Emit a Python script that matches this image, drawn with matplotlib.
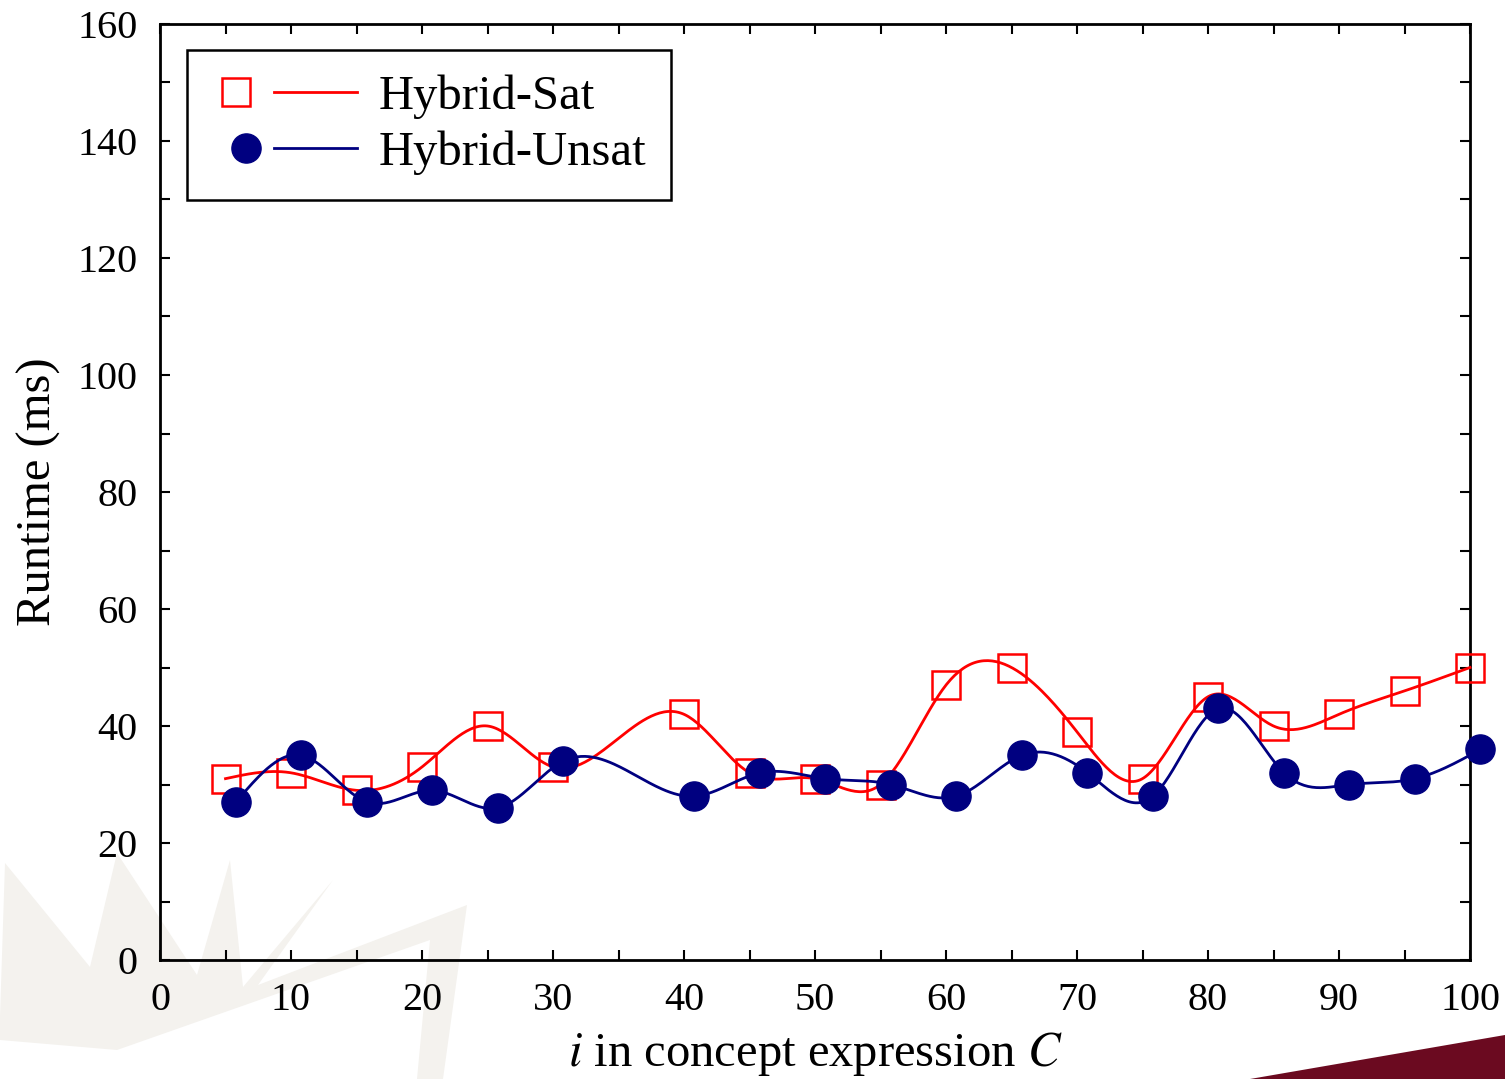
import numpy as np
import matplotlib
matplotlib.use("Agg")
import matplotlib.pyplot as plt
from matplotlib.lines import Line2D
from matplotlib.legend_handler import HandlerBase

plt.rcParams['font.family'] = ['Liberation Serif', 'DejaVu Serif']
plt.rcParams['mathtext.fontset'] = 'stix'

# data
sat_x = [5, 10, 15, 20, 25, 30, 40, 45, 50, 55, 60, 65, 70, 75, 80, 85, 90, 95, 100]
sat_y = [31, 32, 29, 33, 40, 33, 42, 32, 31, 30, 47, 50, 39, 31, 45, 40, 42, 46, 50]
unsat_x = [5.8, 10.8, 15.8, 20.8, 25.8, 30.8, 40.8, 45.8, 50.8, 55.8, 60.8, 65.8,
           70.8, 75.8, 80.8, 85.8, 90.8, 95.8, 100.8]
unsat_y = [27, 35, 27, 29, 26, 34, 28, 32, 31, 30, 28, 35, 32, 28, 43, 32, 30, 31, 36]

RED = '#ff0000'
BLUE = '#000080'
LW = 2.0


def csplines(x, y, n=600):
    # natural cubic spline, like gnuplot "smooth csplines"
    x = np.asarray(x, float)
    y = np.asarray(y, float)
    k = len(x)
    h = np.diff(x)
    A = np.zeros((k, k))
    b = np.zeros(k)
    A[0, 0] = A[-1, -1] = 1
    for i in range(1, k - 1):
        A[i, i - 1] = h[i - 1]
        A[i, i] = 2 * (h[i - 1] + h[i])
        A[i, i + 1] = h[i]
        b[i] = 6 * ((y[i + 1] - y[i]) / h[i] - (y[i] - y[i - 1]) / h[i - 1])
    M = np.linalg.solve(A, b)
    xs = np.linspace(x[0], x[-1], n)
    idx = np.clip(np.searchsorted(x, xs) - 1, 0, k - 2)
    x0, x1 = x[idx], x[idx + 1]
    hh = x1 - x0
    t0 = x1 - xs
    t1 = xs - x0
    ys = (M[idx] * t0 ** 3 + M[idx + 1] * t1 ** 3) / (6 * hh) \
        + (y[idx] / hh - M[idx] * hh / 6) * t0 \
        + (y[idx + 1] / hh - M[idx + 1] * hh / 6) * t1
    return xs, ys


class MarkerThenLine(HandlerBase):
    # marker on the left, short line on the right, as gnuplot draws its key
    def __init__(self, mpos):
        super().__init__()
        self.mpos = mpos

    def create_artists(self, legend, orig, xdescent, ydescent, width, height, fontsize, trans):
        y = height / 2 - ydescent
        m = Line2D([self.mpos * width - xdescent], [y], ls='none',
                   marker=orig.get_marker(), ms=orig.get_markersize(),
                   mfc=orig.get_markerfacecolor(), mec=orig.get_markeredgecolor(),
                   mew=orig.get_markeredgewidth())
        l = Line2D([0.43 * width - xdescent, width - xdescent], [y, y],
                   color=orig.get_color(), lw=orig.get_linewidth())
        m.set_transform(trans)
        l.set_transform(trans)
        return [m, l]


W, H = 1505.0, 1079.0
fig = plt.figure(figsize=(15.05, 10.79), dpi=100)

# faint slide watermark behind the plot (pixel coordinates)
bg = fig.add_axes([0, 0, 1, 1], zorder=-1)
bg.set_xlim(0, W)
bg.set_ylim(H, 0)
bg.axis('off')
wm = [(0, 1017), (5, 863), (90, 967), (117, 853), (197, 975), (230, 860), (243, 987),
      (333, 880), (258, 985), (467, 905), (443, 1079), (417, 1079), (430, 940),
      (117, 1050), (0, 1040)]
bg.fill([p[0] for p in wm], [p[1] for p in wm], color='#f4f2ee', lw=0)
sw = [(1250, 1079), (1505, 1035), (1505, 1079)]
bg.fill([p[0] for p in sw], [p[1] for p in sw], color='#6b0a20', lw=0)

ax = fig.add_axes([160 / W, 1 - 960 / H, 1310 / W, 936 / H])
ax.set_facecolor('none')

xs, ys = csplines(sat_x, sat_y)
ax.plot(xs, ys, color=RED, lw=LW, clip_on=False, zorder=3)
ax.plot(sat_x, sat_y, ls='none', marker='s', ms=20, mfc='none', mec=RED, mew=1.8,
        clip_on=False, zorder=4)

xs, ys = csplines(unsat_x, unsat_y)
ax.plot(xs, ys, color=BLUE, lw=LW, clip_on=False, zorder=5)
ax.plot(unsat_x, unsat_y, ls='none', marker='o', ms=21, mfc=BLUE, mec=BLUE,
        clip_on=False, zorder=6)

ax.set_xlim(0, 100)
ax.set_ylim(0, 160)
ax.set_xticks(range(0, 101, 10))
ax.set_xticks(range(5, 100, 10), minor=True)
ax.set_yticks(range(0, 161, 20))
ax.set_yticks(range(10, 160, 20), minor=True)
ax.tick_params(which='both', direction='in', top=True, right=True, length=7, width=1.5,
               labelsize=29)
ax.tick_params(axis='x', pad=16)
ax.tick_params(axis='y', pad=16)
for s in ax.spines.values():
    s.set_linewidth(2)

ax.set_xlabel(r'$i$ in concept expression $C$', fontsize=35, labelpad=8)
ax.set_ylabel('Runtime (ms)', fontsize=35, labelpad=12)

h_sat = Line2D([], [], marker='s', ms=20, mfc='none', mec=RED, mew=1.8, color=RED, lw=LW)
h_unsat = Line2D([], [], marker='o', ms=21, mfc=BLUE, mec=BLUE, color=BLUE, lw=LW)
leg = ax.legend([h_sat, h_unsat], ['Hybrid-Sat', 'Hybrid-Unsat'],
                handler_map={h_sat: MarkerThenLine(0.17), h_unsat: MarkerThenLine(0.24)},
                loc='upper left', bbox_to_anchor=(27 / 1310, 1 - 26 / 936),
                borderaxespad=0, fontsize=35, handlelength=3.0, handletextpad=0.45,
                fancybox=False, framealpha=1, edgecolor='black',
                borderpad=0.5, labelspacing=0.25)
leg.get_frame().set_linewidth(1.8)

fig.savefig('out.png', dpi=100)
